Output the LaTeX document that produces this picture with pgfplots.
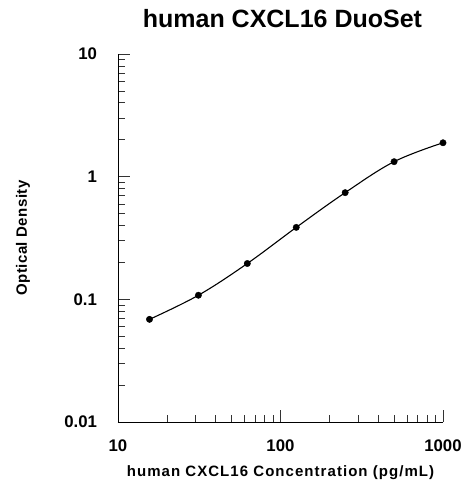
\documentclass[border=0pt]{standalone}
\usepackage{fontspec}
\setmainfont{Liberation Sans}
\usepackage{pgfplots}
\pgfplotsset{compat=1.18}
\begin{document}
\begin{tikzpicture}[x=1pt,y=1pt]
\path[use as bounding box] (-118,-60) rectangle (347,422);
\begin{axis}[
  at={(0,0)}, anchor=south west,
  scale only axis, width=325pt, height=368pt,
  xmode=log, ymode=log,
  xmin=10, xmax=1000, ymin=0.01, ymax=10,
  axis lines=left, axis line style={-, line width=0.9pt},
  tick align=inside,
  major tick length=12pt, minor tick length=7pt,
  tick style={line width=0.7pt, black!80},
  xtick={10,100,1000}, xticklabels={10,100,1000},
  ytick={0.01,0.1,1,10}, yticklabels={0.01,0.1,1,10},
  minor xtick={20,30,40,50,60,70,80,90,200,300,400,500,600,700,800,900},
  minor ytick={0.02,0.03,0.04,0.05,0.06,0.07,0.08,0.09,0.2,0.3,0.4,0.5,0.6,0.7,0.8,0.9,2,3,4,5,6,7,8,9},
  /pgf/number format/assume math mode=true,
  tick label style={font=\bfseries\fontsize{16.8}{16.8}\selectfont},
  xticklabel style={anchor=center, yshift=-24pt},
  yticklabel style={anchor=east, xshift=-17.5pt},
  title={human CXCL16 DuoSet},
  title style={font=\bfseries\fontsize{25}{25}\selectfont, at={(axis description cs:0.506,1.08)}, anchor=center},
  xlabel={human CXCL16 Concentration (pg/mL)},
  xlabel style={font=\bfseries\fontsize{15}{15}\selectfont\addfontfeature{LetterSpace=7}, at={(axis description cs:0.5,-0.138)}, anchor=center},
  ylabel={Optical Density},
  ylabel style={font=\bfseries\fontsize{15}{15}\selectfont\addfontfeature{LetterSpace=3}, at={(axis description cs:-0.292,0.5)}, anchor=center},
  clip=false,
]
\addplot[black, line width=1.1pt, smooth, tension=0.6] coordinates {
  (15.625,0.0687) (31.25,0.108) (62.5,0.196) (125,0.386) (250,0.741) (500,1.325) (1000,1.89)
};
\addplot[only marks, mark=*, mark size=3.2pt, black] coordinates {
  (15.625,0.0687) (31.25,0.108) (62.5,0.196) (125,0.386) (250,0.741) (500,1.325) (1000,1.89)
};
\end{axis}
\end{tikzpicture}
\end{document}
